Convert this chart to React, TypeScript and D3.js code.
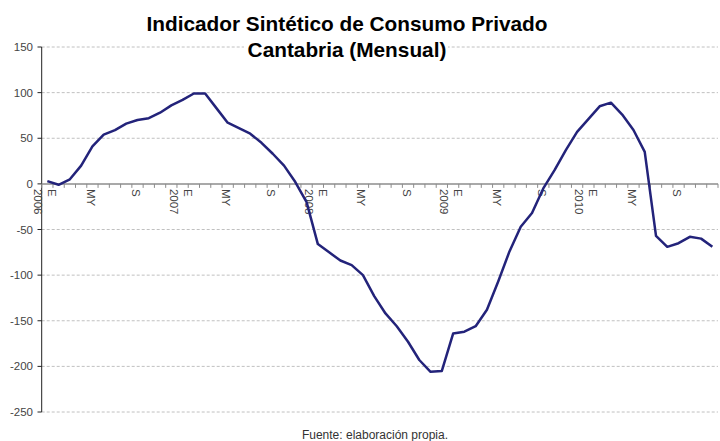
import React from "react";
import * as d3 from "d3";

const title1 = "Indicador Sintético de Consumo Privado";
const title2 = "Cantabria (Mensual)";
const source = "Fuente: elaboración propia.";

const years = ["2006", "2007", "2008", "2009", "2010"];
const monthCodes = ["E", "F", "M", "A", "MY", "J", "JL", "AG", "S", "O", "N", "D"];
const shownMonths = ["E", "MY", "S"];

const values = [
  3, -1, 5, 20, 41, 54, 59, 66, 70, 72, 78, 86,
  92, 99, 99, 83, 67, 61, 55, 45, 33, 20, 2, -20,
  -66, -75, -84, -89, -100, -123, -142, -156, -173, -193, -206, -205,
  -164, -162, -156, -138, -107, -74, -47, -32, -5, 15, 37, 57,
  71, 85, 89, 76, 59, 35, -57, -69, -65, -58, -60, -69,
];

const yTicks = [-250, -200, -150, -100, -50, 0, 50, 100, 150];

const W = 720;
const H = 441;

export default function App() {
  const cats = values.map((_, i) => i);
  const x = d3.scaleBand<number>().domain(cats).range([41.7, 718]).padding(0);
  const y = d3.scaleLinear().domain([-250, 150]).range([412, 47]);
  const cx = (i: number) => (x(i) as number) + x.bandwidth() / 2;
  const line = d3
    .line<number>()
    .x((_, i) => cx(i))
    .y((d) => y(d));

  const axisY = y(0);
  const font = "Arial, 'Liberation Sans', sans-serif";

  return (
    <div style={{ position: "absolute", left: 0, top: 0 }}>
      <svg width={W} height={H} style={{ display: "block", background: "#fff" }}>
        {/* gridlines */}
        {yTicks
          .filter((t) => t !== 0)
          .map((t) => (
            <line
              key={"g" + t}
              x1={41.7}
              x2={718}
              y1={y(t)}
              y2={y(t)}
              stroke="#c0c0c0"
              strokeWidth={1}
              strokeDasharray="3,2"
            />
          ))}
        {/* title */}
        <rect x={244} y={40} width={204} height={21} fill="#fff" />
        <text x={347} y={31} textAnchor="middle" fontFamily={font} fontWeight="bold" fontSize={20.8} fill="#000">
          {title1}
        </text>
        <text x={347} y={57} textAnchor="middle" fontFamily={font} fontWeight="bold" fontSize={20.8} fill="#000">
          {title2}
        </text>
        {/* y axis */}
        <line x1={41.7} x2={41.7} y1={y(150)} y2={y(-250)} stroke="#222" strokeWidth={1} />
        {yTicks.map((t) => (
          <g key={"yt" + t}>
            <line x1={37.5} x2={41.7} y1={y(t)} y2={y(t)} stroke="#222" strokeWidth={1} />
            <text
              x={33}
              y={y(t)}
              dy="0.35em"
              textAnchor="end"
              fontFamily={font}
              fontSize={11.5}
              fill="#444"
            >
              {t}
            </text>
          </g>
        ))}
        {/* x axis */}
        <line x1={41.7} x2={718} y1={axisY} y2={axisY} stroke="#8c8c8c" strokeWidth={1.5} />
        {cats.concat([values.length]).map((i) => {
          const xx = i < values.length ? (x(i) as number) : 718;
          return <line key={"xt" + i} x1={xx} x2={xx} y1={axisY} y2={axisY + 4} stroke="#8c8c8c" strokeWidth={1} />;
        })}
        {cats.map((i) => {
          const m = monthCodes[i % 12];
          if (!shownMonths.includes(m)) return null;
          const c = cx(i);
          if (m === "E") {
            const yr = years[Math.floor(i / 12)];
            return (
              <g key={"xl" + i}>
                <text
                  transform={`translate(${c - 9},${axisY + 5}) rotate(90)`}
                  dominantBaseline="central"
                  fontFamily={font}
                  fontSize={11.5}
                  fill="#444"
                >
                  {yr}
                </text>
                <text
                  transform={`translate(${c + 5},${axisY + 5}) rotate(90)`}
                  dominantBaseline="central"
                  fontFamily={font}
                  fontSize={11.5}
                  fill="#444"
                >
                  {m}
                </text>
              </g>
            );
          }
          return (
            <text
              key={"xl" + i}
              transform={`translate(${c - 1.5},${axisY + 5}) rotate(90)`}
              dominantBaseline="central"
              fontFamily={font}
              fontSize={11.5}
              fill="#444"
            >
              {m}
            </text>
          );
        })}
        {/* data line */}
        <path d={line(values) || ""} fill="none" stroke="#23237a" strokeWidth={2.5} strokeLinejoin="round" />
        {/* source */}
        <text x={375} y={439} textAnchor="middle" fontFamily={font} fontSize={12} fill="#333">
          {source}
        </text>
      </svg>
    </div>
  );
}
